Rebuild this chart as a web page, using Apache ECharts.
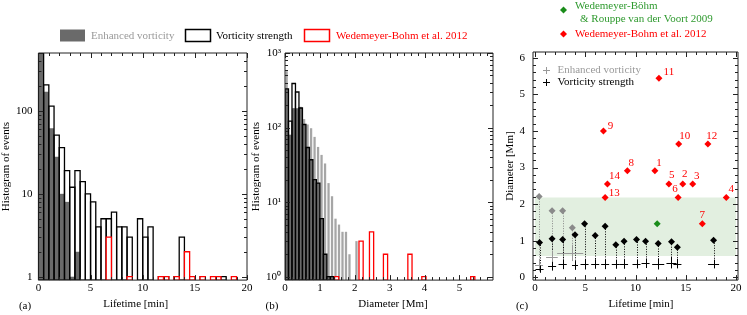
<!DOCTYPE html>
<html><head><meta charset="utf-8">
<script src="https://cdn.jsdelivr.net/npm/echarts@6/dist/echarts.min.js"></script>
<style>html,body{margin:0;padding:0;background:#fff}#c{width:747px;height:315px}</style>
</head><body><div id="c"></div>
<script>
// ================= DATA =================
// (a) lifetime histograms: bin start [min] and counts, bin width 0.5 min
const lifeBinWidth = 0.5;
const lifeEnhancedStart = [0, 0.5, 1, 1.5, 2, 2.5, 3, 3.5];
const lifeEnhancedCount = [600, 170, 62, 28, 10, 8, 1, 2];
const lifeStrengthStart = [0, 0.5, 1, 1.5, 2, 2.5, 3, 3.5, 4, 4.5, 5, 5.5, 6, 6.5, 7, 7.5, 8, 8.5, 9.5, 10, 10.5, 11.5, 12, 13, 13.5, 14.5, 15.5, 17.5];
const lifeStrengthCount = [560, 206, 114, 51, 36, 19, 12, 19, 14, 10, 8, 4, 5, 5, 6, 4, 4, 3, 5, 3, 4, 1, 1, 1, 3, 1, 1, 1];
const lifeW12Start = [6.5, 8.5, 11.5, 12, 13, 14, 14.5, 15.5, 16.5, 17, 18.5];
const lifeW12Count = [3, 1, 1, 1, 1, 2, 1, 1, 1, 1, 1];

// (b) diameter histograms: bin start [Mm] and counts, bin width 0.1 Mm
const diamBinWidth = 0.1;
const diamEnhancedStart = [0, 0.1, 0.2, 0.3, 0.4, 0.5, 0.6, 0.7, 0.8, 0.9, 1.0, 1.1, 1.2, 1.3, 1.4, 1.5, 1.6, 1.7, 1.8, 2.0];
const diamEnhancedCount = [570, 80, 181, 181, 190, 130, 110, 98, 75, 55, 43, 33, 18, 12, 6, 5, 4, 4, 2, 3];
const diamOverlapStart = [0, 0.1, 0.2, 0.3, 0.4, 0.5, 0.6, 0.7, 0.8, 0.9, 1.0, 1.1, 1.2, 1.3, 1.4];
const diamOverlapCount = [330, 80, 181, 181, 183, 110, 54, 37, 20, 18, 6, 2, 1, 1, 1];
const diamStrengthStart = [0, 0.1, 0.2, 0.3, 0.4, 0.5, 0.6, 0.7, 0.8, 0.9, 1.0, 1.1, 1.2, 1.3, 1.4];
const diamStrengthCount = [330, 122, 390, 300, 183, 110, 54, 37, 20, 18, 6, 2, 1, 1, 1];
const diamW12Width = 0.12;
const diamW12Start = [1.42, 2.12, 2.42, 2.82, 3.52, 3.92, 5.32];
const diamW12Count = [1, 3, 4, 2, 2, 1, 1];

// (c) lifetime vs diameter
const w12Names = ['1','2','3','4','5','6','7','8','9','10','11','12','13','14'];
const w12Life  = [11.93, 14.7, 15.69, 19.03, 13.32, 14.24, 16.65, 9.19, 6.81, 14.3, 12.33, 17.2, 6.98, 7.21];
const w12Diam  = [2.91, 2.55, 2.55, 2.18, 2.55, 2.18, 1.46, 2.91, 4.0, 3.64, 5.44, 3.64, 2.18, 2.55];
const w09Life = [12.16];
const w09Diam = [1.46];
const w09BandLife = [0, 20];
const w09BandDiam = [0.58, 2.18];
// vorticity strength (black)
const vsLife = [0.45, 1.7, 2.75, 3.98, 4.93, 5.99, 6.98, 8.04, 8.86, 10.1, 11.0, 12.26, 13.58, 14.17, 17.77];
const vsDiam = [0.95, 1.05, 1.03, 1.16, 1.46, 1.14, 1.39, 0.89, 0.98, 1.03, 0.98, 0.92, 0.97, 0.82, 1.01];
const vsCrossDiam = [0.22, 0.30, 0.35, 0.32, 0.35, 0.36, 0.35, 0.35, 0.36, 0.36, 0.38, 0.36, 0.40, 0.37, 0.36];
const vsCrossDiamErr = [0.10, 0.12, 0.13, 0.12, 0.14, 0.13, 0.13, 0.12, 0.13, 0.12, 0.13, 0.15, 0.16, 0.13, 0.12];
const vsCrossLifeErr = [0.4, 0.4, 0.4, 0.3, 0.4, 0.4, 0.4, 0.4, 0.4, 0.4, 0.4, 0.6, 0.5, 0.4, 0.55];
// enhanced vorticity (grey)
const evLife = [0.41, 1.7, 2.75, 3.71];
const evDiam = [2.21, 1.82, 1.82, 1.35];
const evCrossDiam = [0.33, 0.56, 0.35, 0.66];
const evCrossDiamLo = [0.16, 0.40, 0.25, 0.44];
const evCrossDiamHi = [0.50, 0.72, 0.45, 0.89];
const evCrossLifeLo = [0.0, 1.1, 2.35, 2.2];
const evCrossLifeHi = [0.8, 2.26, 3.15, 4.8];

// tick labels
const logLabelsA = {1: '1', 10: '10', 100: '100'};
const logLabelsB = ['10\u2070', '10\u00b9', '10\u00b2', '10\u00b3'];

// ================= STYLE =================
const FONT = '"Liberation Serif", "Times New Roman", serif';
const FONTCSS = '11px ' + FONT;
const GREY = '#6a6a6a', LIGHT = '#a6a6a6', GREYTXT = '#9a9a9a', RED = '#ff0000';
const GREEN = '#2f9a2f', GREENPT = '#1a8c1a', BAND = '#e2efe0';
const labelOffsets = [[4,-8],[2,-10],[4,-8],[5,-8],[3,-9],[-3,-8],[0,-9],[4,-8],[7,-5],[6,-8],[10,-6],[4,-8],[9,-4],[7,-8]];

const R = {
  a: {x: [0, 20], y: [0.91, 500]},
  b: {x: [0, 5.96], y: [0.9, 1000]},
  c: {x: [-0.2, 20.2], y: [-0.08, 6.16]}
};

function histSeries(gi, starts, counts, width, base, top, style, inset, z) {
  inset = inset || [0, 0];
  return {
    type: 'custom', xAxisIndex: gi, yAxisIndex: gi, clip: true, silent: true, z: z || 2,
    data: starts.map((s, i) => [s, s + width, counts[i]]),
    encode: {x: [0, 1], y: 2},
    renderItem: (params, api) => {
      const x0 = api.value(0), x1 = api.value(1), c = Math.min(api.value(2), top);
      const w = x1 - x0;
      const pa = api.coord([x0 + w * inset[0], base]);
      const pb = api.coord([x1 - w * inset[1], c]);
      return {type: 'rect', shape: {x: pa[0], y: pb[1], width: pb[0] - pa[0], height: pa[1] - pb[1]}, style: style};
    }
  };
}

function tickSeries(gi, r, xMaj, xMin, yMaj, yMin) {
  const data = [];
  xMaj.forEach(v => data.push([v, r.y[0], 0, 5]));
  xMin.forEach(v => data.push([v, r.y[0], 0, 3]));
  yMaj.forEach(v => data.push([r.x[0], v, 1, 5]));
  yMin.forEach(v => data.push([r.x[0], v, 1, 3]));
  return {
    type: 'custom', xAxisIndex: gi, yAxisIndex: gi, silent: true, z: 20,
    data: data, encode: {x: 0, y: 1},
    renderItem: (params, api) => {
      const o = api.value(2), len = api.value(3);
      let a, b, ls;
      if (o === 0) {
        const v = api.value(0);
        a = api.coord([v, r.y[0]]); b = api.coord([v, r.y[1]]);
        const x = Math.round(a[0]) + 0.5;
        ls = [[x, a[1], x, a[1] - len], [x, b[1], x, b[1] + len]];
      } else {
        const v = api.value(1);
        a = api.coord([r.x[0], v]); b = api.coord([r.x[1], v]);
        const y = Math.round(a[1]) + 0.5;
        ls = [[a[0], y, a[0] + len, y], [b[0], y, b[0] - len, y]];
      }
      return {type: 'group', children: ls.map(l => ({type: 'line', shape: {x1: l[0], y1: l[1], x2: l[2], y2: l[3]}, style: {stroke: '#222', lineWidth: 1}}))};
    }
  };
}

function range(a, b, step, skipEvery) {
  const out = [];
  for (let i = 0; a + i * step <= b + 1e-9; i++) {
    if (skipEvery && i % skipEvery === 0) continue;
    out.push(+(a + i * step).toFixed(4));
  }
  return out;
}
const logMinor = (decades) => { const o = []; decades.forEach(d => { for (let k = 2; k <= 9; k++) o.push(k * d); }); return o; };

// ticks
const ticksA = tickSeries(0, R.a, [0,5,10,15,20], range(0, 20, 1, 5), [1,10,100], logMinor([1,10,100]).filter(v => v < 500));
const ticksB = tickSeries(1, R.b, [0,1,2,3,4,5], range(0, 5.8, 0.2, 5), [1,10,100,1000], logMinor([1,10,100]));
const ticksC = tickSeries(2, R.c, [0,5,10,15,20], range(0, 20, 1, 5), [0,1,2,3,4,5,6], range(0, 6, 0.2, 5));

// panel c series
const bandSeries = {
  type: 'custom', xAxisIndex: 2, yAxisIndex: 2, silent: true, z: 1,
  data: [[w09BandLife[0], w09BandLife[1], w09BandDiam[0], w09BandDiam[1]]],
  encode: {x: [0, 1], y: [2, 3]},
  renderItem: (p, api) => {
    const a = api.coord([api.value(0), api.value(2)]), b = api.coord([api.value(1), api.value(3)]);
    return {type: 'rect', shape: {x: a[0], y: b[1], width: b[0] - a[0], height: a[1] - b[1]}, style: {fill: BAND}};
  }
};
function dropSeries(life, diam, crossD, color, z) {
  return {
    type: 'custom', xAxisIndex: 2, yAxisIndex: 2, silent: true, z: z,
    data: life.map((t, i) => [t, diam[i], crossD[i]]), encode: {x: 0, y: [1, 2]},
    renderItem: (p, api) => {
      const a = api.coord([api.value(0), api.value(1)]), b = api.coord([api.value(0), api.value(2)]);
      const x = Math.round(a[0]) + 0.5;
      return {type: 'line', shape: {x1: x, y1: a[1], x2: x, y2: b[1]}, style: {stroke: color, lineWidth: 1, lineDash: [1, 1.5]}};
    }
  };
}
function crossSeries(rows, color, z) {
  return {
    type: 'custom', xAxisIndex: 2, yAxisIndex: 2, silent: true, z: z,
    data: rows, encode: {x: [0, 2, 3], y: [1, 4, 5]},
    renderItem: (p, api) => {
      const t = api.value(0), d = api.value(1);
      const h0 = api.coord([api.value(2), d]), h1 = api.coord([api.value(3), d]);
      const v0 = api.coord([t, api.value(4)]), v1 = api.coord([t, api.value(5)]);
      const y = Math.round(h0[1]) + 0.5, x = Math.round(v0[0]) + 0.5;
      return {type: 'group', children: [
        {type: 'line', shape: {x1: h0[0], y1: y, x2: h1[0], y2: y}, style: {stroke: color, lineWidth: 1}},
        {type: 'line', shape: {x1: x, y1: v0[1], x2: x, y2: v1[1]}, style: {stroke: color, lineWidth: 1}}
      ]};
    }
  };
}
const vsCrossRows = vsLife.map((t, i) => [t, vsCrossDiam[i], t - vsCrossLifeErr[i], t + vsCrossLifeErr[i], vsCrossDiam[i] - vsCrossDiamErr[i], vsCrossDiam[i] + vsCrossDiamErr[i]]);
const evCrossRows = evLife.map((t, i) => [t, evCrossDiam[i], evCrossLifeLo[i], evCrossLifeHi[i], evCrossDiamLo[i], evCrossDiamHi[i]]);

function diamonds(life, diam, color, z, extra) {
  return Object.assign({
    type: 'scatter', xAxisIndex: 2, yAxisIndex: 2, symbol: 'diamond', symbolSize: 7, z: z, silent: true,
    itemStyle: {color: color, opacity: 1},
    data: life.map((t, i) => [t, diam[i]])
  }, extra || {});
}

const axisLabelBase = {fontFamily: FONT, fontSize: 11, color: '#000'};
const nameBase = {fontFamily: FONT, fontSize: 11, color: '#000'};
const noLine = {show: false}, noTick = {show: false}, noSplit = {show: false};

function xAx(gi, r, name, extraLabel, pad, interval) {
  const o = {gridIndex: gi, type: 'value', min: r.x[0], max: r.x[1], axisLine: noLine, axisTick: noTick, splitLine: noSplit,
    axisLabel: Object.assign({margin: 3}, axisLabelBase, extraLabel || {}),
    name: name, nameLocation: 'middle', nameGap: 18, nameTextStyle: Object.assign({padding: pad}, nameBase)};
  if (interval) o.interval = interval;
  return o;
}

const option = {
  animation: false,
  backgroundColor: '#fff',
  textStyle: {fontFamily: FONT},
  grid: [
    {left: 37, top: 53, width: 210, height: 228, show: true, borderColor: '#222', borderWidth: 1, backgroundColor: 'transparent', z: 15},
    {left: 285, top: 53, width: 208, height: 228, show: true, borderColor: '#222', borderWidth: 1, backgroundColor: 'transparent', z: 15},
    {left: 533, top: 52, width: 205, height: 229, show: true, borderColor: '#222', borderWidth: 1, backgroundColor: 'transparent', z: 15}
  ],
  xAxis: [
    xAx(0, R.a, 'Lifetime [min]', {}, [0, 14, 0, 0], 5),
    xAx(1, R.b, 'Diameter [Mm]', {showMaxLabel: false}, [0, 0, 0, 8], 1),
    xAx(2, R.c, 'Lifetime [min]', {showMinLabel: false, showMaxLabel: false}, [0, 0, 0, 11])
  ],
  yAxis: [
    {gridIndex: 0, type: 'log', logBase: 10, min: R.a.y[0], max: R.a.y[1], axisLine: noLine, axisTick: noTick, splitLine: noSplit,
      axisLabel: Object.assign({margin: 6, showMinLabel: false, showMaxLabel: false, formatter: v => logLabelsA[Math.round(v)] || ''}, axisLabelBase),
      name: 'Histogram of events', nameLocation: 'middle', nameGap: 24, nameTextStyle: nameBase},
    {gridIndex: 1, type: 'log', logBase: 10, min: R.b.y[0], max: R.b.y[1], axisLine: noLine, axisTick: noTick, splitLine: noSplit,
      axisLabel: Object.assign({margin: 4, showMinLabel: false, formatter: v => logLabelsB[Math.round(Math.log10(v))] || ''}, axisLabelBase),
      name: 'Histogram of events', nameLocation: 'middle', nameGap: 21, nameTextStyle: nameBase},
    {gridIndex: 2, type: 'value', min: R.c.y[0], max: R.c.y[1], axisLine: noLine, axisTick: noTick, splitLine: noSplit,
      axisLabel: Object.assign({margin: 8, showMinLabel: false, showMaxLabel: false}, axisLabelBase),
      name: 'Diameter [Mm]', nameLocation: 'middle', nameGap: 16, nameTextStyle: nameBase}
  ],
  series: [
    // (a)
    histSeries(0, lifeEnhancedStart, lifeEnhancedCount, lifeBinWidth, R.a.y[0], R.a.y[1], {fill: GREY}, null, 2),
    histSeries(0, lifeStrengthStart, lifeStrengthCount, lifeBinWidth, R.a.y[0], R.a.y[1], {fill: 'none', stroke: '#000', lineWidth: 1.3}, null, 3),
    histSeries(0, lifeW12Start, lifeW12Count, lifeBinWidth, R.a.y[0], R.a.y[1], {fill: '#fff', stroke: RED, lineWidth: 1.3}, null, 4),
    ticksA,
    // (b)
    histSeries(1, diamEnhancedStart, diamEnhancedCount, diamBinWidth, R.b.y[0], R.b.y[1], {fill: LIGHT}, [0.15, 0.2], 2),
    histSeries(1, diamOverlapStart, diamOverlapCount, diamBinWidth, R.b.y[0], R.b.y[1], {fill: GREY}, null, 3),
    histSeries(1, diamStrengthStart, diamStrengthCount, diamBinWidth, R.b.y[0], R.b.y[1], {fill: 'none', stroke: '#000', lineWidth: 1.3}, null, 4),
    histSeries(1, diamW12Start, diamW12Count, diamW12Width, R.b.y[0], R.b.y[1], {fill: '#fff', stroke: RED, lineWidth: 1.3}, null, 5),
    ticksB,
    // (c)
    bandSeries,
    dropSeries(evLife, evDiam, evCrossDiam, '#888', 3),
    dropSeries(vsLife, vsDiam, vsCrossDiam, '#000', 4),
    crossSeries(evCrossRows, '#999', 5),
    crossSeries(vsCrossRows, '#000', 6),
    diamonds(evLife, evDiam, '#8a8a8a', 7),
    diamonds(vsLife, vsDiam, '#000', 8),
    diamonds(w09Life, w09Diam, GREENPT, 9),
    diamonds(w12Life, w12Diam, RED, 10, {
      data: w12Life.map((t, i) => ({value: [t, w12Diam[i]], label: {offset: labelOffsets[i]}})),
      label: {show: true, position: 'inside', formatter: p => w12Names[p.dataIndex], color: RED, fontFamily: FONT, fontSize: 11}
    }),
    ticksC
  ],
  graphic: [
    // legend above (a)/(b)
    {type: 'rect', shape: {x: 60, y: 29.5, width: 25, height: 12}, style: {fill: GREY}},
    {type: 'text', x: 91, y: 36, style: {text: 'Enhanced vorticity', fill: GREYTXT, font: FONTCSS, verticalAlign: 'middle'}},
    {type: 'rect', shape: {x: 185.5, y: 29.5, width: 25, height: 12}, style: {fill: '#fff', stroke: '#000', lineWidth: 1.5}},
    {type: 'text', x: 216, y: 36, style: {text: 'Vorticity strength', fill: '#000', font: FONTCSS, verticalAlign: 'middle'}},
    {type: 'rect', shape: {x: 304.5, y: 29.5, width: 25, height: 12}, style: {fill: '#fff', stroke: RED, lineWidth: 1.5}},
    {type: 'text', x: 336, y: 36, style: {text: 'Wedemeyer-Bohm et al. 2012', fill: RED, font: FONTCSS, verticalAlign: 'middle'}},
    // legend above (c)
    {type: 'polygon', shape: {points: [[563.5, 6.5], [567, 10], [563.5, 13.5], [560, 10]]}, style: {fill: GREENPT}},
    {type: 'text', x: 575, y: 6, style: {text: 'Wedemeyer-B\u00f6hm', fill: GREEN, font: FONTCSS, verticalAlign: 'middle'}},
    {type: 'text', x: 580, y: 19.5, style: {text: '& Rouppe van der Voort 2009', fill: GREEN, font: FONTCSS, verticalAlign: 'middle'}},
    {type: 'polygon', shape: {points: [[563.5, 30.5], [567, 34], [563.5, 37.5], [560, 34]]}, style: {fill: RED}},
    {type: 'text', x: 575, y: 34, style: {text: 'Wedemeyer-Bohm et al. 2012', fill: RED, font: FONTCSS, verticalAlign: 'middle'}},
    // legend inside (c)
    {type: 'line', shape: {x1: 543, y1: 70.5, x2: 550, y2: 70.5}, style: {stroke: '#999', lineWidth: 1}},
    {type: 'line', shape: {x1: 546.5, y1: 67, x2: 546.5, y2: 74}, style: {stroke: '#999', lineWidth: 1}},
    {type: 'text', x: 557.5, y: 70, style: {text: 'Enhanced vorticity', fill: GREYTXT, font: FONTCSS, verticalAlign: 'middle'}},
    {type: 'line', shape: {x1: 543, y1: 82.5, x2: 550, y2: 82.5}, style: {stroke: '#000', lineWidth: 1}},
    {type: 'line', shape: {x1: 546.5, y1: 79, x2: 546.5, y2: 86}, style: {stroke: '#000', lineWidth: 1}},
    {type: 'text', x: 557.5, y: 82.5, style: {text: 'Vorticity strength', fill: '#000', font: FONTCSS, verticalAlign: 'middle'}},
    // panel letters
    {type: 'text', x: 25, y: 306, style: {text: '(a)', fill: '#000', font: FONTCSS, align: 'center', verticalAlign: 'middle'}},
    {type: 'text', x: 272, y: 306, style: {text: '(b)', fill: '#000', font: FONTCSS, align: 'center', verticalAlign: 'middle'}},
    {type: 'text', x: 522, y: 306, style: {text: '(c)', fill: '#000', font: FONTCSS, align: 'center', verticalAlign: 'middle'}}
  ]
};

const chart = echarts.init(document.getElementById('c'), null, {renderer: 'canvas'});
chart.setOption(option);
</script></body></html>
